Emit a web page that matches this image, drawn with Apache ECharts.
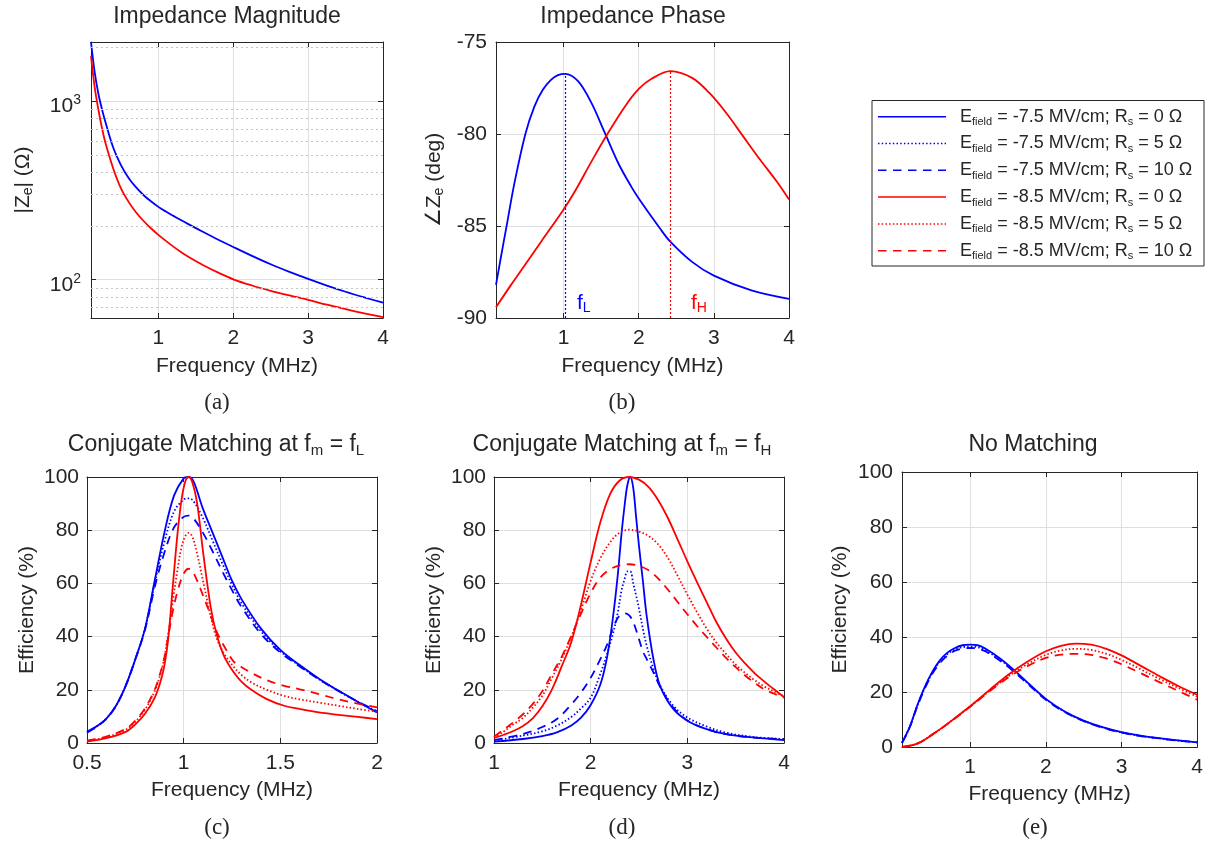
<!DOCTYPE html>
<html><head><meta charset="utf-8">
<script src="https://cdn.jsdelivr.net/npm/echarts@6/dist/echarts.min.js"></script>
<style>html,body{margin:0;padding:0;background:#fff}#c{width:1206px;height:841px}</style>
</head><body><div id="c"></div>
<script>
// ---------------- DATA ----------------
// (a) impedance magnitude |Ze| (ohm) vs frequency (MHz)
const fA = [0.1,0.15,0.2,0.25,0.3,0.4,0.5,0.6,0.7,0.8,0.9,1.0,1.1,1.2,1.3,1.4,1.6,1.8,2.0,2.25,2.5,2.75,3.0,3.25,3.5,3.75,4.0];
const zMagBlue = [2150,1449,1095,890,745,546,439,373,330,298.5,275,256,241,228,216,205,185,167.5,152.5,136,122,110.6,101,92.7,85.6,79.6,74.3];
const zMagRed  = [1790,1193,891,697,570,416,325,274,239,214,194.3,178.4,165,153.3,143.1,134.5,120.5,109.5,100.5,92.8,86.7,81.6,77.1,72.4,68.4,64.8,61.6];
const logMinorTicks = [70,80,90,200,300,400,500,600,700,800,900,2000];

// (b) impedance phase (deg)
const fPhBlue = [0.1,0.165,0.241,0.344,0.491,0.612,0.723,0.835,0.924,1.022,1.192,1.37,1.55,1.728,1.906,2.0,2.286,2.42,2.71,3.0,3.5,4.0];
const phBlue  = [-88.2,-86.7,-85.0,-82.7,-80.0,-78.5,-77.6,-77.05,-76.8,-76.73,-77.13,-78.31,-79.95,-81.59,-82.9,-83.5,-85.15,-85.85,-86.95,-87.7,-88.5,-88.96];
const fPhRed  = [0.1,0.3,0.478,0.7,1.0,1.147,1.37,1.571,1.817,2.0,2.17,2.42,2.71,2.94,3.165,3.39,3.616,3.84,4.0];
const phRed   = [-89.42,-88.2,-87.16,-85.85,-84.1,-83.14,-81.5,-80.08,-78.5,-77.55,-77.0,-76.58,-76.95,-77.77,-78.86,-80.13,-81.4,-82.6,-83.56];
const fL = 1.022, fLPhase = -76.73;
const fH = 2.42,  fHPhase = -76.58;

// (c) conjugate matching at fm = fL, efficiency (%)
const fCBlue = [0.5,0.55,0.6,0.65,0.7,0.75,0.8,0.85,0.9,0.95,1.0,1.025,1.05,1.1,1.15,1.2,1.25,1.3,1.4,1.5,1.6,1.7,1.8,1.9,2.0];
const cBlueR0  = [4.3,6.3,9.2,14,21.5,31.5,43,61,79,93,99.5,100,98.5,88,79,70,61,54,43,35,29.3,24.2,19.7,15.5,11.5];
const cBlueR5  = [4.1,6.2,9.2,14,21.5,31.5,43,60,75.5,87,91.5,92,91,84.5,76,67.5,59.5,52.5,42,34.5,29,24,19.6,15.5,11.8];
const cBlueR10 = [3.9,6.1,9.1,14,21.5,31.5,42.5,58.5,71.5,81,85,85.5,84.5,79,72,64.5,57.5,51,41,34,28.8,23.9,19.6,15.6,12];
const fCRed = [0.5,0.6,0.7,0.75,0.8,0.85,0.88,0.9,0.92,0.945,0.97,0.99,1.01,1.026,1.045,1.07,1.1,1.14,1.17,1.21,1.26,1.3,1.35,1.43,1.52,1.6,1.7,1.8,1.9,2.0];
const cRedR0  = [0.5,1.8,4.2,7,11,17,23,29,39,60,80,92,98.7,100,98,90,72,51,41,32.5,26.5,23,20,16.5,14,12.8,11.5,10.6,9.8,9.0];
const cRedR5  = [0.8,2.2,5,8,12.5,19.5,26,32,41,54,66,74,78,79,77.5,71,61,47.5,39.5,33.5,28.5,25.5,22.8,20,17.7,16.4,15.2,14,12.8,11.8];
const cRedR10 = [0.9,2.4,5.3,8.4,13,20,26.5,32,40,50,57.5,62,64.8,65.5,64.5,61,55.5,48,42,36.3,30.5,28.5,26.4,23.6,21.5,20.2,18.4,16.4,14.8,13.4];

// (d) conjugate matching at fm = fH
const fDRed = [1.0,1.1,1.2,1.3,1.4,1.5,1.6,1.7,1.8,1.9,2.0,2.1,2.2,2.3,2.4,2.5,2.6,2.7,2.8,2.9,3.0,3.1,3.2,3.3,3.4,3.5,3.6,3.7,3.8,3.9,4.0];
const dRedR0  = [1.9,3.1,4.5,6.4,9.3,13.8,20.2,28.8,38,52,68,83,93.5,98.7,100,99,96.2,91.2,84.5,76.5,68.3,60.5,53,45.5,39.3,34,29.8,26.1,23,20.1,17.3];
const dRedR5  = [2.1,4.3,7,9.5,13.2,17.8,24.5,31.5,40,50,61,69.4,75.4,79.1,80.2,79.5,77.8,74.6,69.5,62.8,55.8,49.2,43,37.8,33.5,29.5,26.3,23.5,21.2,19.3,17.5];
const dRedR10 = [2.4,5,7.8,10.8,14.6,19.5,26,32.4,40.3,48.6,56.4,62.2,65.3,66.8,67.2,66.6,64.9,61.8,57.6,53,48.4,44,39.9,35.9,32,28.5,25.3,22.5,20.1,18.5,17];
const fDBlue = [1.0,1.3,1.5,1.65,1.8,1.9,2.0,2.1,2.17,2.23,2.28,2.32,2.35,2.38,2.41,2.44,2.47,2.5,2.54,2.58,2.65,2.72,2.85,3.0,3.2,3.4,3.7,4.0];
const dBlueR0  = [0.5,1.5,2.6,4.0,6.6,9.5,14.3,22,32.3,47,63,79,89,97,100,96,85,74,61,47.6,31.4,21.3,13,8.4,5.2,3.3,2.0,1.1];
const dBlueR5  = [0.9,2.8,4.4,6.5,9.8,13,17,26,33.5,41,49,57.5,61.5,64.5,64.5,60,55.5,50.5,43,36.5,27.8,21.5,14.2,9.6,6.2,3.9,2.2,1.5];
const dBlueR10 = [1.1,3.4,6,9,14.5,19,24.5,31.5,37,43,47,48.3,48.7,48.5,47.5,45.5,42.5,39,34.5,31.5,26.5,21,13.5,8.5,5.2,3.3,2.0,1.5];

// (e) no matching
const fEBlue = [0.1,0.2,0.3,0.4,0.5,0.6,0.7,0.8,0.9,1.0,1.1,1.2,1.4,1.6,1.8,2.0,2.25,2.5,2.75,3.0,3.25,3.5,3.75,4.0];
const eBlueR0  = [1.5,7.2,15,21.8,27.3,31.5,34.3,36,37,37.2,37,35.8,32.1,27.5,22.4,17.5,12.9,9.6,7.2,5.4,4.1,3.2,2.4,1.7];
const eBlueR5  = [1.5,7.1,14.8,21.5,27,31,33.8,35.5,36.3,36.5,36.3,35.2,31.7,27.2,22.2,17.4,12.8,9.5,7.1,5.3,4.0,3.1,2.3,1.7];
const eBlueR10 = [1.5,7.0,14.6,21.2,26.6,30.5,33.2,35,35.8,36,35.8,34.8,31.3,26.9,22.0,17.2,12.7,9.4,7.0,5.2,4.0,3.1,2.3,1.7];
const fERed = [0.1,0.3,0.5,0.7,1.0,1.25,1.5,1.75,2.0,2.2,2.4,2.6,2.8,3.0,3.25,3.5,3.75,4.0];
const eRedR0  = [0,1.2,4.5,8.4,14.8,20.6,26.2,30.9,34.8,36.8,37.6,37.2,35.7,33.3,29.6,25.8,22.2,19.0];
const eRedR5  = [0,1.2,4.5,8.4,14.7,20.3,25.6,30.0,33.5,35.1,35.7,35.3,33.9,31.7,28.3,24.8,21.5,18.3];
const eRedR10 = [0,1.2,4.5,8.4,14.6,20.1,25.2,29.3,32.4,33.6,33.9,33.5,32.2,30.1,26.9,23.6,20.4,17.2];

// tick labels
const xTicksFull = [1,2,3,4];
const xTicksC = [0.5,1,1.5,2];
const yTicksPhase = [-90,-85,-80,-75];
const yTicksEff = [0,20,40,60,80,100];

// legend labels
const legendLabels = [
  'E{sub|field} = -7.5 MV/cm; R{sub|s} = 0 Ω',
  'E{sub|field} = -7.5 MV/cm; R{sub|s} = 5 Ω',
  'E{sub|field} = -7.5 MV/cm; R{sub|s} = 10 Ω',
  'E{sub|field} = -8.5 MV/cm; R{sub|s} = 0 Ω',
  'E{sub|field} = -8.5 MV/cm; R{sub|s} = 5 Ω',
  'E{sub|field} = -8.5 MV/cm; R{sub|s} = 10 Ω'
];

// ---------------- STYLE ----------------
const BLUE = '#0000ff', RED = '#ff0000';
const INK = '#262626', GRIDC = '#dfdfdf';
const FONT = '"Liberation Sans", Arial, sans-serif';
const SERIF = '"Liberation Serif", "Times New Roman", serif';
const DOT = [1.5, 2.2], DASH = [8.5, 6.5];
const LW = 1.8;

const grids = [
  {left: 91,  top: 42,  width: 292, height: 276},
  {left: 496, top: 42,  width: 293, height: 276},
  {left: 87,  top: 477, width: 290, height: 266},
  {left: 494, top: 477, width: 290, height: 266},
  {left: 902, top: 472, width: 299, height: 275}
].map(g => Object.assign({show: false, containLabel: false}, g));

const subRich = {sub: {fontSize: 14, lineHeight: 10, verticalAlign: 'bottom', color: INK, fontFamily: FONT}};

function tickFormatter(list) {
  return v => list.some(t => Math.abs(t - v) < 1e-9) ? String(v) : '';
}

function xAxes(gi, min, max, interval, ticks, nameGap) {
  const base = {type: 'value', gridIndex: gi, min: min, max: max,
    axisLine: {show: true, onZero: false, lineStyle: {color: INK, width: 1}},
    axisTick: {show: true, inside: true, length: 5, lineStyle: {color: INK}}};
  if (interval) base.interval = interval;
  return [
    Object.assign({}, base, {position: 'bottom', name: 'Frequency (MHz)', nameLocation: 'middle', nameGap: nameGap,
      nameTextStyle: {fontSize: 21, color: INK, fontFamily: FONT},
      axisLabel: {show: true, fontSize: 21, color: INK, fontFamily: FONT, margin: 10, formatter: tickFormatter(ticks)},
      splitLine: {show: true, lineStyle: {color: GRIDC, width: 1}}}),
    Object.assign({}, base, {position: 'top', axisLabel: {show: false}, splitLine: {show: false}})
  ];
}

function yAxes(gi, cfg) {
  const base = Object.assign({gridIndex: gi,
    axisLine: {show: true, onZero: false, lineStyle: {color: INK, width: 1}},
    axisTick: {show: true, inside: true, length: 5, lineStyle: {color: INK}}}, cfg.scale);
  return [
    Object.assign({}, base, {position: 'left', name: cfg.name, nameLocation: 'middle', nameGap: cfg.nameGap, nameRotate: 90,
      nameTextStyle: {fontSize: 21, color: INK, fontFamily: FONT, lineHeight: 24, rich: subRich},
      axisLabel: Object.assign({show: true, fontSize: 21, color: INK, fontFamily: FONT, margin: 8}, cfg.label),
      splitLine: {show: true, lineStyle: {color: GRIDC, width: 1}}}),
    Object.assign({}, base, {position: 'right', axisLabel: {show: false}, splitLine: {show: false}})
  ];
}

const xAxis = [].concat(
  xAxes(0, 0.1, 4, null, xTicksFull, 38),
  xAxes(1, 0.1, 4, null, xTicksFull, 38),
  xAxes(2, 0.5, 2, 0.5, xTicksC, 37),
  xAxes(3, 1, 4, 1, xTicksFull, 37),
  xAxes(4, 0.1, 4, null, xTicksFull, 37)
);

const effScale = {type: 'value', min: 0, max: 100, interval: 20};
const effLabel = {formatter: tickFormatter(yTicksEff)};
const yAxis = [].concat(
  yAxes(0, {scale: {type: 'log', logBase: 10, min: 61, max: 2150}, name: '|Z{sub|e}| (Ω)', nameGap: 56,
    label: {formatter: v => { const e = Math.log10(v); return Math.abs(e - Math.round(e)) < 1e-6 ? '10{sup|' + Math.round(e) + '}' : ''; },
      lineHeight: 26, padding: [10, 0, 0, 0], margin: 10,
      rich: {sup: {fontSize: 14, lineHeight: 12, verticalAlign: 'top', color: INK, fontFamily: FONT}}}}),
  yAxes(1, {scale: {type: 'value', min: -90, max: -75, interval: 5}, name: '∠Z{sub|e} (deg)', nameGap: 50,
    label: {formatter: tickFormatter(yTicksPhase), margin: 9}}),
  yAxes(2, {scale: effScale, name: 'Efficiency (%)', nameGap: 48, label: effLabel}),
  yAxes(3, {scale: effScale, name: 'Efficiency (%)', nameGap: 48, label: effLabel}),
  yAxes(4, {scale: effScale, name: 'Efficiency (%)', nameGap: 50, label: Object.assign({margin: 9}, effLabel)})
);

function line(name, gi, xs, ys, color, dash, extra) {
  return Object.assign({
    type: 'line', name: name, xAxisIndex: gi * 2, yAxisIndex: gi * 2,
    data: xs.map((x, i) => [x, ys[i]]),
    symbol: 'none', showSymbol: false, smooth: 0.35,
    lineStyle: {color: color, width: LW, type: dash || 'solid', cap: 'butt', join: 'round'},
    itemStyle: {color: color}, emphasis: {disabled: true}, silent: true
  }, extra || {});
}

const N = ['E=-7.5, Rs=0', 'E=-7.5, Rs=5', 'E=-7.5, Rs=10', 'E=-8.5, Rs=0', 'E=-8.5, Rs=5', 'E=-8.5, Rs=10'];

const series = [
  // (a)
  line('|Ze| E=-7.5', 0, fA, zMagBlue, BLUE, null, {
    markLine: {silent: true, symbol: ['none', 'none'], label: {show: false}, animation: false,
      lineStyle: {color: '#c4c4c4', type: [2, 3], width: 1},
      data: logMinorTicks.map(v => ({yAxis: v}))}
  }),
  line('|Ze| E=-8.5', 0, fA, zMagRed, RED),
  // (b)
  line('Phase E=-7.5', 1, fPhBlue, phBlue, BLUE, null, {
    markLine: {silent: true, symbol: ['none', 'none'], label: {show: false}, animation: false,
      lineStyle: {color: BLUE, type: [2, 2], width: 1.2},
      data: [[{coord: [fL, -90]}, {coord: [fL, fLPhase]}]]}
  }),
  line('Phase E=-8.5', 1, fPhRed, phRed, RED, null, {
    markLine: {silent: true, symbol: ['none', 'none'], label: {show: false}, animation: false,
      lineStyle: {color: RED, type: [2, 2], width: 1.2},
      data: [[{coord: [fH, -90]}, {coord: [fH, fHPhase]}]]}
  }),
  // (c)
  line(N[0], 2, fCBlue, cBlueR0, BLUE),
  line(N[1], 2, fCBlue, cBlueR5, BLUE, DOT),
  line(N[2], 2, fCBlue, cBlueR10, BLUE, DASH),
  line(N[3], 2, fCRed, cRedR0, RED),
  line(N[4], 2, fCRed, cRedR5, RED, DOT),
  line(N[5], 2, fCRed, cRedR10, RED, DASH),
  // (d)
  line(N[0], 3, fDBlue, dBlueR0, BLUE),
  line(N[1], 3, fDBlue, dBlueR5, BLUE, DOT),
  line(N[2], 3, fDBlue, dBlueR10, BLUE, DASH),
  line(N[3], 3, fDRed, dRedR0, RED),
  line(N[4], 3, fDRed, dRedR5, RED, DOT),
  line(N[5], 3, fDRed, dRedR10, RED, DASH),
  // (e)
  line(N[0], 4, fEBlue, eBlueR0, BLUE),
  line(N[1], 4, fEBlue, eBlueR5, BLUE, DOT),
  line(N[2], 4, fEBlue, eBlueR10, BLUE, DASH),
  line(N[3], 4, fERed, eRedR0, RED),
  line(N[4], 4, fERed, eRedR5, RED, DOT),
  line(N[5], 4, fERed, eRedR10, RED, DASH)
];

// ---------------- TEXT / LEGEND (graphic) ----------------
function gText(text, x, y, opts) {
  opts = opts || {};
  const fill = opts.fill || INK;
  const fs = opts.fontSize || 23;
  return {type: 'text', x: x, y: y, silent: true, style: {
    text: text, fill: fill, fontSize: fs, fontFamily: opts.fontFamily || FONT,
    align: opts.align || 'center', verticalAlign: 'middle', lineHeight: opts.lineHeight || Math.round(fs * 1.15),
    rich: {sub: {fontSize: opts.subSize || Math.round(fs * 0.65), lineHeight: opts.subLH || 10, verticalAlign: 'bottom', fill: fill, fontFamily: FONT}}
  }};
}

const graphic = [
  gText('Impedance Magnitude', 227, 17),
  gText('Impedance Phase', 633, 17),
  gText('Conjugate Matching at f{sub|m} = f{sub|L}', 216, 445),
  gText('Conjugate Matching at f{sub|m} = f{sub|H}', 622, 445),
  gText('No Matching', 1033, 445),
  gText('(a)', 217, 403, {fontFamily: SERIF, fontSize: 23}),
  gText('(b)', 622, 403, {fontFamily: SERIF, fontSize: 23}),
  gText('(c)', 217, 828, {fontFamily: SERIF, fontSize: 23}),
  gText('(d)', 622, 828, {fontFamily: SERIF, fontSize: 23}),
  gText('(e)', 1035, 828, {fontFamily: SERIF, fontSize: 23}),
  gText('f{sub|L}', 577, 303, {fill: BLUE, fontSize: 21, align: 'left'}),
  gText('f{sub|H}', 691, 303, {fill: RED, fontSize: 21, align: 'left'}),
  {type: 'rect', shape: {x: 872, y: 100.5, width: 332, height: 165.5}, silent: true,
    style: {fill: '#fff', stroke: INK, lineWidth: 1}}
];
const legendStyles = [[BLUE, null], [BLUE, DOT], [BLUE, DASH], [RED, null], [RED, DOT], [RED, DASH]];
legendStyles.forEach((s, i) => {
  const y = 116.7 + 26.8 * i;
  graphic.push({type: 'line', silent: true, shape: {x1: 878, y1: y, x2: 946, y2: y},
    style: {stroke: s[0], lineWidth: 1.5, lineDash: s[1] || null}});
  graphic.push(gText(legendLabels[i], 960, y, {fontSize: 18, align: 'left', subSize: 11, subLH: 10, lineHeight: 22}));
});

const chart = echarts.init(document.getElementById('c'), null, {renderer: 'canvas'});
chart.setOption({
  animation: false,
  backgroundColor: '#ffffff',
  textStyle: {fontFamily: FONT},
  grid: grids,
  xAxis: xAxis,
  yAxis: yAxis,
  series: series,
  graphic: graphic
});
</script></body></html>
